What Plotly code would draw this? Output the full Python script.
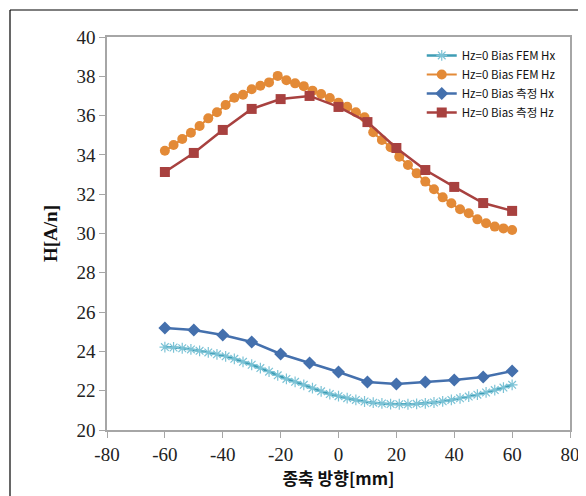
import plotly.graph_objects as go

# Measured positions (10 mm steps) and FEM positions (3 mm steps)
x_meas = [-60, -50, -40, -30, -20, -10, 0, 10, 20, 30, 40, 50, 60]
x_fem = [-60, -57, -54, -51, -48, -45, -42, -39, -36, -33, -30, -27, -24, -21,
         -18, -15, -12, -9, -6, -3, 0, 3, 6, 9, 12, 15, 18, 21, 24, 27, 30,
         33, 36, 39, 42, 45, 48, 51, 54, 57, 60]

fem_hx = [24.22, 24.20, 24.16, 24.10, 24.03, 23.95, 23.85, 23.75, 23.62, 23.47,
          23.32, 23.15, 22.97, 22.78, 22.60, 22.45, 22.30, 22.13, 21.97, 21.83,
          21.72, 21.62, 21.53, 21.45, 21.39, 21.35, 21.32, 21.31, 21.31, 21.33,
          21.36, 21.40, 21.46, 21.53, 21.61, 21.70, 21.80, 21.91, 22.03, 22.16,
          22.30]
fem_hz = [34.21, 34.50, 34.81, 35.13, 35.47, 35.86, 36.17, 36.54, 36.91, 37.06,
          37.34, 37.52, 37.69, 38.02, 37.80, 37.64, 37.50, 37.27, 37.10, 36.90,
          36.66, 36.45, 36.17, 35.91, 35.15, 34.76, 34.39, 33.91, 33.49, 33.06,
          32.64, 32.25, 31.84, 31.54, 31.23, 31.03, 30.72, 30.52, 30.35, 30.26,
          30.18]
meas_hx = [25.19, 25.09, 24.83, 24.48, 23.87, 23.41, 22.95, 22.44, 22.34, 22.44,
           22.54, 22.70, 23.00]
meas_hz = [33.13, 34.10, 35.27, 36.34, 36.84, 37.00, 36.44, 35.67, 34.35, 33.23,
           32.37, 31.55, 31.15]

x_ticks = [-80, -60, -40, -20, 0, 20, 40, 60, 80]
x_tick_text = ["-80", "-60", "-40", "-20", "0", "20", "40", "60", "80"]
y_ticks = [20, 22, 24, 26, 28, 30, 32, 34, 36, 38, 40]

names = ["Hz=0 Bias FEM Hx", "Hz=0 Bias FEM Hz", "Hz=0 Bias 측정 Hx", "Hz=0 Bias 측정 Hz"]
colors = ["#3E9DB5", "#E38A37", "#4470AD", "#A8413F"]

fig = go.Figure()
fig.add_trace(go.Scatter(x=x_fem, y=fem_hx, name=names[0], mode="lines+markers",
                         line=dict(color=colors[0], width=2.5, shape="spline"),
                         marker=dict(symbol="asterisk-open", size=9, color="#7CC3D6",
                                     line=dict(width=1.2, color="#7CC3D6"))))
fig.add_trace(go.Scatter(x=x_fem, y=fem_hz, name=names[1], mode="lines+markers",
                         line=dict(color=colors[1], width=2, shape="spline"),
                         marker=dict(symbol="circle", size=10, color=colors[1])))
fig.add_trace(go.Scatter(x=x_meas, y=meas_hx, name=names[2], mode="lines+markers",
                         line=dict(color=colors[2], width=2.5),
                         marker=dict(symbol="diamond", size=10, color=colors[2])))
fig.add_trace(go.Scatter(x=x_meas, y=meas_hz, name=names[3], mode="lines+markers",
                         line=dict(color=colors[3], width=2.5),
                         marker=dict(symbol="square", size=10, color=colors[3])))

tick_font = dict(family="Liberation Serif, Times New Roman, serif", size=19, color="#222")

fig.update_layout(
    width=578, height=488,
    margin=dict(l=99, r=16, t=29, b=66),
    paper_bgcolor="white", plot_bgcolor="white",
    showlegend=True,
    legend=dict(x=0.98, y=0.99, xanchor="right", yanchor="top",
                font=dict(family="Noto Sans CJK KR, Noto Sans, sans-serif", size=11.5, color="#111"),
                bgcolor="rgba(255,255,255,0)", tracegroupgap=0, itemwidth=30),
    xaxis=dict(range=[-80, 80], tickvals=x_ticks, ticktext=x_tick_text, automargin=False,
               showgrid=False, zeroline=False, showline=True, linecolor="#A6A6A6",
               linewidth=1.5, mirror=True, ticks="outside", ticklen=6, tickcolor="#A6A6A6",
               tickfont=tick_font,
               title=dict(text="<b>종축 방향[mm]</b>", standoff=8,
                          font=dict(family="Noto Sans CJK KR, sans-serif", size=17, color="#111"))),
    yaxis=dict(range=[20, 40], tickvals=y_ticks, automargin=False,
               showgrid=False, zeroline=False, showline=True, linecolor="#A6A6A6",
               linewidth=1.5, mirror=True, ticks="outside", ticklen=6, tickcolor="#A6A6A6",
               tickfont=tick_font,
               title=dict(text="<b>H[A/n]</b>", standoff=14,
                          font=dict(family="Liberation Serif, Times New Roman, serif", size=19, color="#111"))),
)

# outer chart border (left and top edges visible in the reference)
fig.add_shape(type="line", xref="paper", yref="paper",
              x0=-0.2095, x1=-0.2095, y0=-0.2, y1=1.0687,
              line=dict(color="black", width=1.2))
fig.add_shape(type="line", xref="paper", yref="paper",
              x0=-0.2095, x1=1.05, y0=1.0687, y1=1.0687,
              line=dict(color="black", width=1.2))

fig.write_html("out.html")
